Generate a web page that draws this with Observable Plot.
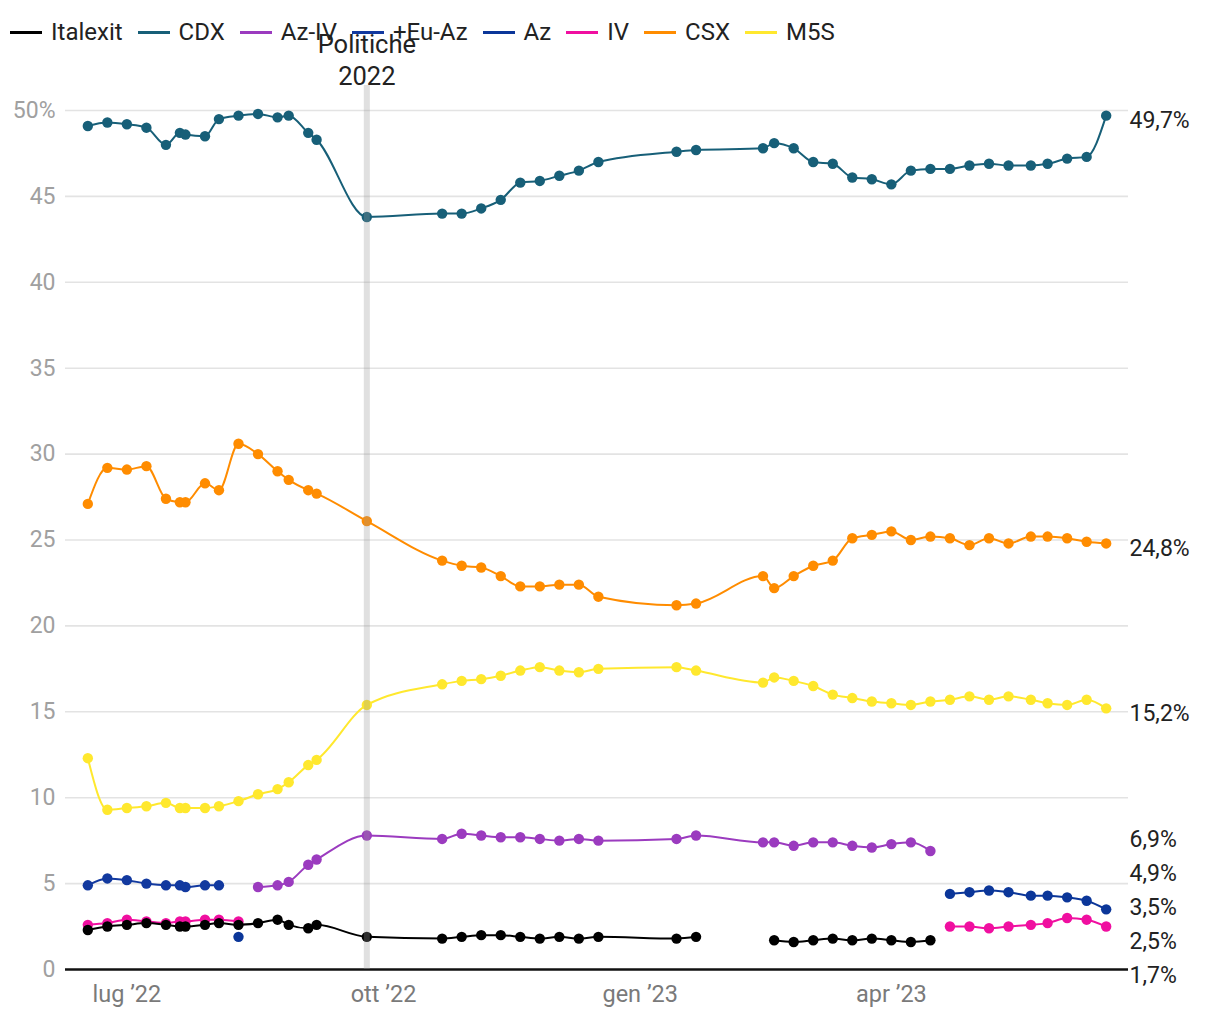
<!DOCTYPE html>
<html>
<head>
<meta charset="utf-8">
<script src="https://cdn.jsdelivr.net/npm/d3@7"></script>
<script src="https://cdn.jsdelivr.net/npm/@observablehq/plot@0.6"></script>
<style>
  html, body { margin: 0; padding: 0; background: #fff; }
  body { width: 1220px; height: 1020px; overflow: hidden; font-family: Roboto, "Noto Sans", sans-serif; }
  #wrap { position: relative; width: 1220px; height: 1020px; }
  #legend { position: absolute; top: 18px; left: 10px; display: flex; align-items: center; font-size: 24px; color: #222; z-index: 2; pointer-events: none; }
  .item { display: flex; align-items: center; margin-right: 15px; }
  .sw { display: inline-block; width: 32px; height: 3px; margin-right: 9px; }
  #chart svg { display: block; }
</style>
</head>
<body>
<div id="wrap">
  <div id="legend"></div>
  <div id="chart"></div>
</div>
<script>
// ---- data ----
const dates = ["2022-06-17","2022-06-24","2022-07-01","2022-07-08","2022-07-15","2022-07-20","2022-07-22","2022-07-29","2022-08-03","2022-08-10",
  "2022-08-17","2022-08-24","2022-08-28","2022-09-04","2022-09-07","2022-09-25","2022-10-22","2022-10-29","2022-11-05","2022-11-12",
  "2022-11-19","2022-11-26","2022-12-03","2022-12-10","2022-12-17","2023-01-14","2023-01-21","2023-02-14","2023-02-18","2023-02-25",
  "2023-03-04","2023-03-11","2023-03-18","2023-03-25","2023-04-01","2023-04-08","2023-04-15","2023-04-22","2023-04-29","2023-05-06",
  "2023-05-13","2023-05-21","2023-05-27","2023-06-03","2023-06-10","2023-06-17"];

const seriesNames = ["Italexit","CDX","Az-IV","+Eu-Az","Az","IV","CSX","M5S"];
const seriesColors = ["#000000","#175f78","#9b3bbf","#12399f","#0b3699","#f00fa0","#ff8c00","#ffe82e"];

const italexit = [2.3,2.5,2.6,2.7,2.6, 2.5,2.5,2.6,2.7,2.6, 2.7,2.9,2.6,2.4,2.6, 1.9,1.8,1.9,2.0,2.0,
  1.9,1.8,1.9,1.8,1.9, 1.8,1.9,null,1.7,1.6, 1.7,1.8,1.7,1.8,1.7, 1.6,1.7,null,null,null,
  null,null,null,null,null, null];
const cdx = [49.1,49.3,49.2,49.0,48.0, 48.7,48.6,48.5,49.5,49.7, 49.8,49.6,49.7,48.7,48.3, 43.8,44.0,44.0,44.3,44.8,
  45.8,45.9,46.2,46.5,47.0, 47.6,47.7,47.8,48.1,47.8, 47.0,46.9,46.1,46.0,45.7, 46.5,46.6,46.6,46.8,46.9,
  46.8,46.8,46.9,47.2,47.3, 49.7];
const azIv = [null,null,null,null,null, null,null,null,null,null, 4.8,4.9,5.1,6.1,6.4, 7.8,7.6,7.9,7.8,7.7,
  7.7,7.6,7.5,7.6,7.5, 7.6,7.8,7.4,7.4,7.2, 7.4,7.4,7.2,7.1,7.3, 7.4,6.9,null,null,null,
  null,null,null,null,null, null];
const euAz = [4.9,5.3,5.2,5.0,4.9, 4.9,4.8,4.9,4.9,null, null,null,null,null,null, null,null,null,null,null,
  null,null,null,null,null, null,null,null,null,null, null,null,null,null,null, null,null,null,null,null,
  null,null,null,null,null, null];
const az = [null,null,null,null,null, null,null,null,null,1.9, null,null,null,null,null, null,null,null,null,null,
  null,null,null,null,null, null,null,null,null,null, null,null,null,null,null, null,null,4.4,4.5,4.6,
  4.5,4.3,4.3,4.2,4.0, 3.5];
const iv = [2.6,2.7,2.9,2.8,2.7, 2.8,2.8,2.9,2.9,2.8, null,null,null,null,null, null,null,null,null,null,
  null,null,null,null,null, null,null,null,null,null, null,null,null,null,null, null,null,2.5,2.5,2.4,
  2.5,2.6,2.7,3.0,2.9, 2.5];
const csx = [27.1,29.2,29.1,29.3,27.4, 27.2,27.2,28.3,27.9,30.6, 30.0,29.0,28.5,27.9,27.7, 26.1,23.8,23.5,23.4,22.9,
  22.3,22.3,22.4,22.4,21.7, 21.2,21.3,22.9,22.2,22.9, 23.5,23.8,25.1,25.3,25.5, 25.0,25.2,25.1,24.7,25.1,
  24.8,25.2,25.2,25.1,24.9, 24.8];
const m5s = [12.3,9.3,9.4,9.5,9.7, 9.4,9.4,9.4,9.5,9.8, 10.2,10.5,10.9,11.9,12.2, 15.4,16.6,16.8,16.9,17.1,
  17.4,17.6,17.4,17.3,17.5, 17.6,17.4,16.7,17.0,16.8, 16.5,16.0,15.8,15.6,15.5, 15.4,15.6,15.7,15.9,15.7,
  15.9,15.7,15.5,15.4,15.7, 15.2];

const yTicks = [0,5,10,15,20,25,30,35,40,45,50];
const xTicks = ["2022-07-01","2022-10-01","2023-01-01","2023-04-01"];
const xTickLabels = ["lug ’22","ott ’22","gen ’23","apr ’23"];
const xDomain = ["2022-06-09","2023-06-25"];
const eventDate = ["2022-09-25"];
const eventLabel = ["Politiche\n2022"];

// ---- build ----
const valuesBySeries = {"Italexit": italexit, "CDX": cdx, "Az-IV": azIv, "+Eu-Az": euAz, "Az": az, "IV": iv, "CSX": csx, "M5S": m5s};
const drawOrder = ["M5S","CSX","IV","Az","+Eu-Az","Az-IV","CDX","Italexit"];
const parse = d3.utcParse("%Y-%m-%d");
const rows = [];
for (const s of drawOrder) {
  valuesBySeries[s].forEach((v, i) => rows.push({series: s, date: parse(dates[i]), value: v}));
}
const pts = rows.filter(d => d.value != null);

const W = 1220, H = 1020, mTop = 110, mBottom = 51, mLeft = 65, mRight = 92;
const pxPerUnit = (H - mTop - mBottom) / 50;
const gap = 34 / pxPerUnit;

// end labels with simple dodge (clusters centered on mean)
let labels = seriesNames.map(s => {
  const vals = valuesBySeries[s].filter(v => v != null);
  const last = vals[vals.length - 1];
  return {series: s, value: last, label: last.toFixed(1).replace(".", ",") + "%"};
}).sort((a, b) => b.value - a.value);
let clusters = labels.map(l => ({items: [l]}));
function place(c) {
  const mean = d3.mean(c.items, d => d.value);
  c.top = mean + (c.items.length - 1) / 2 * gap;
  c.bottom = c.top - (c.items.length - 1) * gap;
}
clusters.forEach(place);
let merged = true;
while (merged) {
  merged = false;
  for (let i = 0; i < clusters.length - 1; i++) {
    if (clusters[i].bottom - clusters[i + 1].top < gap) {
      clusters[i].items = clusters[i].items.concat(clusters[i + 1].items);
      clusters.splice(i + 1, 1);
      place(clusters[i]);
      merged = true;
      break;
    }
  }
}
clusters.forEach(c => c.items.forEach((l, k) => l.pos = c.top - k * gap));

const eventData = eventDate.map((d, i) => ({date: parse(d), label: eventLabel[i]}));

const plot = Plot.plot({
  width: W, height: H,
  marginTop: mTop, marginBottom: mBottom, marginLeft: mLeft, marginRight: mRight,
  style: {fontFamily: "Roboto, sans-serif", background: "#fff"},
  x: {type: "utc", domain: xDomain.map(parse)},
  y: {domain: [0, 50]},
  color: {domain: seriesNames, range: seriesColors},
  marks: [
    Plot.ruleY(yTicks.filter(d => d > 0), {stroke: "#e3e3e3", strokeWidth: 1.6}),
    Plot.axisY({ticks: yTicks, tickSize: 0, tickPadding: 10, fontSize: 23, fill: "#a0a0a0",
      tickFormat: d => d === 50 ? "50%" : String(d), label: null}),
    Plot.axisX({ticks: xTicks.map(parse), tickSize: 0, tickPadding: 16, fontSize: 23.5, fill: "#7a7a7a",
      tickFormat: (d, i) => xTickLabels[i], label: null}),
    Plot.line(rows, {x: "date", y: "value", z: "series", stroke: "series", strokeWidth: 2, curve: "monotone-x"}),
    Plot.dot(pts, {x: "date", y: "value", fill: "series", r: 5.2}),
    Plot.ruleY([0], {stroke: "#111", strokeWidth: 2.5}),
    Plot.ruleX(eventData, {x: "date", stroke: "#999", strokeOpacity: 0.3, strokeWidth: 6, insetTop: -25}),
    Plot.text(eventData, {x: "date", text: "label", frameAnchor: "top", lineAnchor: "bottom", lineHeight: 1.25, dy: -26, fontSize: 25.5, fill: "#222"}),
    Plot.text(labels, {y: "pos", text: "label", frameAnchor: "right", textAnchor: "start", dx: 1, dy: 5, fontSize: 23, fill: "#222"})
  ]
});
document.getElementById("chart").appendChild(plot);

// legend
const leg = document.getElementById("legend");
seriesNames.forEach((s, i) => {
  const it = document.createElement("div");
  it.className = "item";
  const sw = document.createElement("span");
  sw.className = "sw";
  sw.style.background = seriesColors[i];
  const tx = document.createElement("span");
  tx.textContent = s;
  it.appendChild(sw); it.appendChild(tx);
  leg.appendChild(it);
});
</script>
</body>
</html>
